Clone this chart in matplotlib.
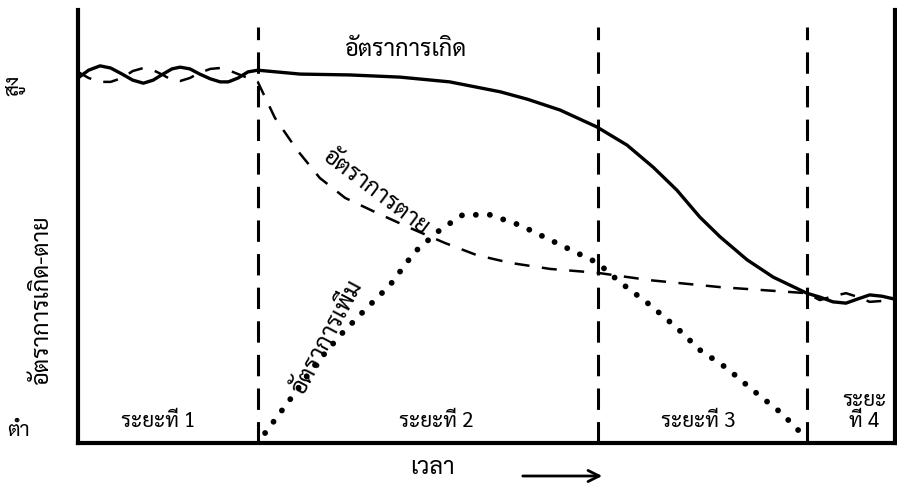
import matplotlib
matplotlib.use("Agg")
import matplotlib.pyplot as plt

plt.rcParams['font.family'] = ['Sarabun', 'Noto Sans Thai', 'Chakra Petch', 'DejaVu Sans']

# time axis runs 0-100, rate axis 0-100 (relative units)
stage_bounds = [22.0, 63.6, 89.2]

birth_t = [0, 1.3, 2.7, 4.0, 5.4, 6.7, 8.0, 9.2, 10.4, 11.5, 12.5, 13.7, 14.9, 16.2, 17.4, 18.4, 19.6, 20.8, 22.0,
           27.2, 33.3, 39.4, 45.5, 51.7, 55.0, 59.0, 63.5, 67.2, 70.4, 73.3, 76.1, 78.6, 81.9, 85.1, 89.2,
           90.8, 92.4, 94.0, 95.5, 96.9, 98.4, 99.8]
birth_r = [84.3, 86.1, 87.1, 86.6, 85.2, 83.8, 83.1, 83.8, 85.2, 86.4, 86.8, 86.4, 85.2, 84.1, 83.4, 83.4, 84.3, 85.7, 86.1,
           85.2, 85.0, 84.5, 83.4, 81.1, 79.4, 76.9, 73.0, 68.8, 63.7, 58.4, 52.2, 47.6, 42.3, 38.3, 34.6,
           33.7, 32.6, 32.3, 33.3, 34.2, 33.9, 33.3]

death_t = [0, 1.3, 2.7, 4.0, 5.4, 6.7, 8.0, 9.2, 10.4, 11.5, 12.5, 13.7, 14.9, 16.2, 17.4, 18.4, 19.6, 20.8, 22.0,
           24.1, 26.8, 29.6, 32.7, 36.4, 40.6, 44.9, 48.8, 52.9, 57.8, 63.6, 70.0, 78.6, 89.2,
           90.8, 92.4, 94.0, 95.5, 96.9, 98.4, 99.8]
death_r = [85.7, 84.3, 83.4, 83.4, 84.3, 85.9, 86.6, 86.1, 85.0, 83.8, 83.6, 84.3, 85.5, 86.4, 86.6, 86.1, 85.2, 84.3, 83.4,
           75.1, 67.7, 61.2, 56.6, 53.3, 49.7, 46.2, 43.4, 41.6, 40.2, 39.3, 37.6, 36.0, 34.6,
           33.0, 33.9, 34.6, 33.7, 32.6, 32.8, 33.7]

growth_t = [22.9, 25.9, 29.0, 32.1, 35.1, 38.2, 41.2, 44.3, 47.1, 50.4, 54.1, 57.8, 61.4, 63.6, 66.3, 70.0,
            73.3, 76.1, 79.4, 82.6, 86.1, 88.4]
growth_r = [2.3, 9.9, 18.0, 24.9, 30.7, 36.5, 44.1, 49.2, 52.7, 52.7, 50.3, 46.9, 43.6, 41.6, 37.2, 31.9,
            26.6, 21.5, 17.3, 12.2, 6.9, 2.5]

stage_labels = ['ระยะที่ 1', 'ระยะที่ 2', 'ระยะที่ 3', 'ระยะ\nที่ 4']
stage_label_t = [9.8, 43.9, 75.9, 96.2]

fig = plt.figure(figsize=(8.97, 4.86), dpi=100)
ax = fig.add_axes([78 / 897, 1 - 443 / 486, 817 / 897, 433 / 486])
ax.set_xlim(0, 100)
ax.set_ylim(0, 100)
ax.set_xticks([])
ax.set_yticks([])
ax.spines['top'].set_visible(False)
for s in ['left', 'bottom', 'right']:
    ax.spines[s].set_linewidth(3)

# stage boundaries
for b in stage_bounds:
    ax.plot([b, b], [0, 96], color='black', lw=2.2, linestyle=(0, (7, 4)))

ax.plot(birth_t, birth_r, color='black', lw=2.4, solid_capstyle='round', solid_joinstyle='round')
ax.plot(death_t, death_r, color='black', lw=1.8, linestyle=(0, (6, 5)))
ax.plot(growth_t, growth_r, color='black', lw=4.2, linestyle=(0, (0.01, 2.4)),
        dash_capstyle='round')

ax.text(40.0, 90.8, 'อัตราการเกิด', fontsize=17, ha='center', va='center')
ax.text(36.4, 58.0, 'อัตราการตาย', fontsize=17, ha='center', va='center', rotation=-37)
ax.text(30.5, 24.5, 'อัตราการเพิ่ม', fontsize=17, ha='center', va='center', rotation=62)

for lab, t in zip(stage_labels, stage_label_t):
    ax.text(t, 2.5, lab, fontsize=15, ha='center', va='bottom', linespacing=1.0)

fig.text(15 / 897, 1 - 85 / 486, 'สูง', fontsize=15, rotation=90, ha='center', va='center')
fig.text(18 / 897, 1 - 430 / 486, 'ต่ำ', fontsize=15, ha='center', va='center')
fig.text(42 / 897, 1 - 300 / 486, 'อัตราการเกิด-ตาย', fontsize=17, rotation=90, ha='center', va='center')
fig.text(432 / 897, 1 - 468 / 486, 'เวลา', fontsize=17, ha='center', va='center')
ax.annotate('', xy=(605 / 897, 1 - 476 / 486), xytext=(520 / 897, 1 - 476 / 486),
            xycoords='figure fraction', textcoords='figure fraction',
            arrowprops=dict(arrowstyle='->', lw=2, color='black', mutation_scale=20))

fig.savefig('out.png')
